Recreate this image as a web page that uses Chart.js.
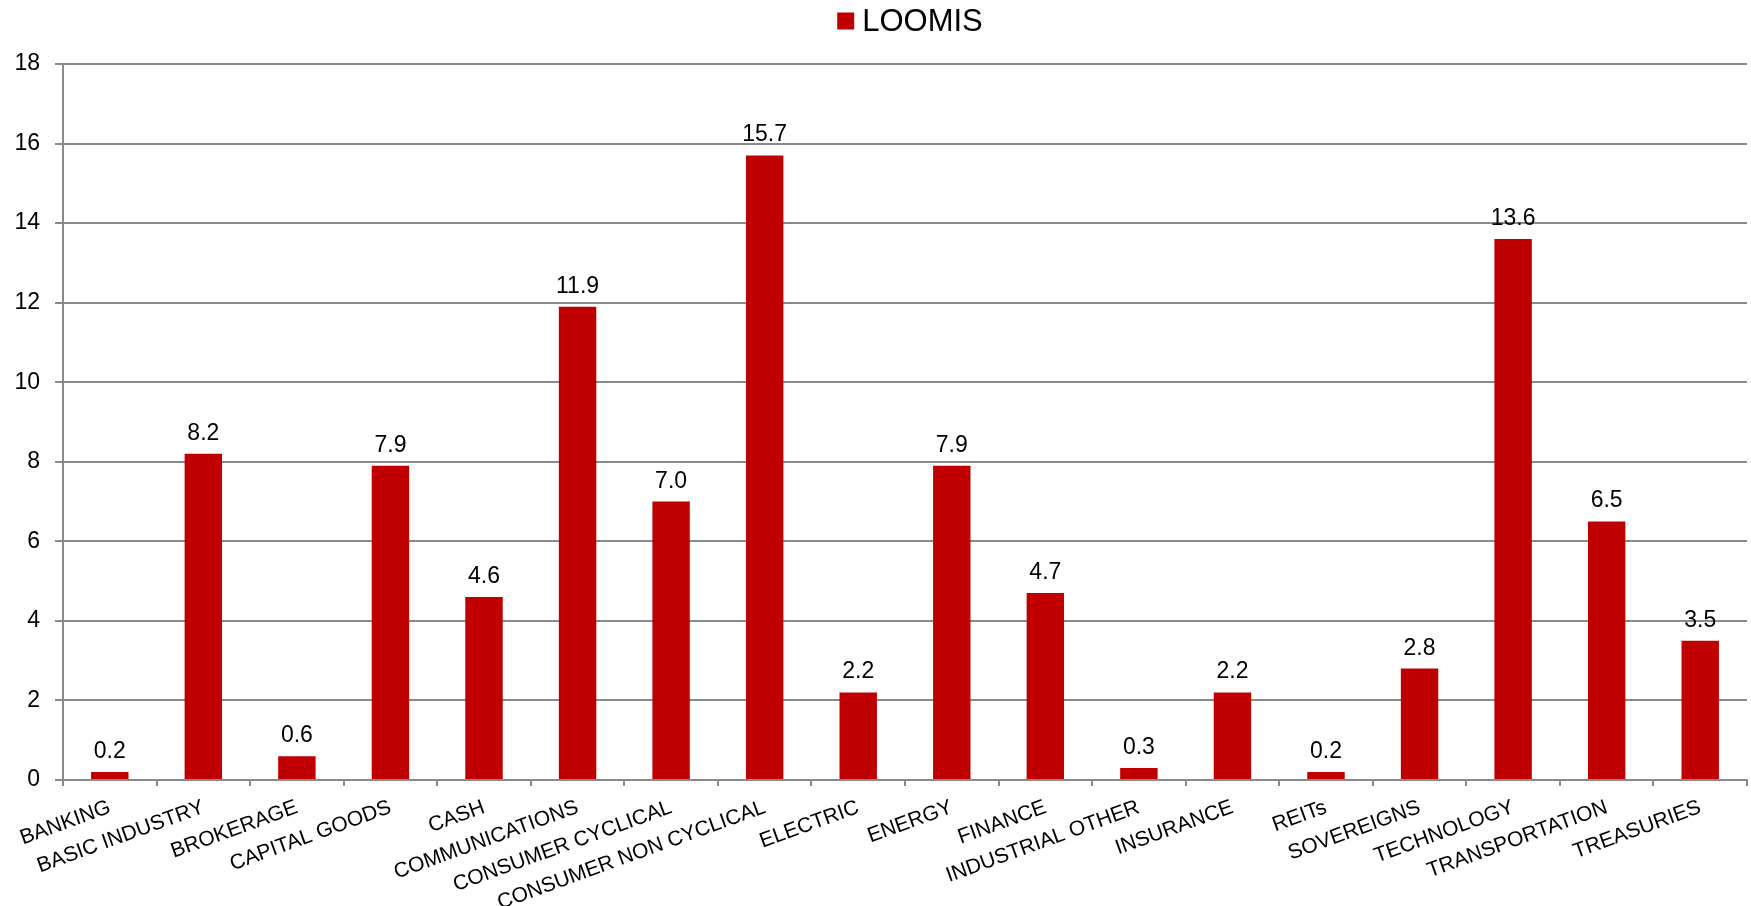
<!DOCTYPE html>
<html>
<head>
<meta charset="utf-8">
<script src="https://cdn.jsdelivr.net/npm/chart.js@4"></script>
<style>
    body { margin: 0; background: #fff; }
    #wrap { width: 1751px; height: 906px; }
</style>
</head>
<body>
<div id="wrap"><canvas id="sector-chart"></canvas></div>
<script>
const sectors = ['BANKING', 'BASIC INDUSTRY', 'BROKERAGE', 'CAPITAL GOODS', 'CASH', 'COMMUNICATIONS',
    'CONSUMER CYCLICAL', 'CONSUMER NON CYCLICAL', 'ELECTRIC', 'ENERGY', 'FINANCE', 'INDUSTRIAL OTHER',
    'INSURANCE', 'REITs', 'SOVEREIGNS', 'TECHNOLOGY', 'TRANSPORTATION', 'TREASURIES'];
const loomis = [0.2, 8.2, 0.6, 7.9, 4.6, 11.9, 7.0, 15.7, 2.2, 7.9, 4.7, 0.3, 2.2, 0.2, 2.8, 13.6, 6.5, 3.5];
const yTicks = [0, 2, 4, 6, 8, 10, 12, 14, 16, 18];

const FONT = "'Liberation Sans', Arial, sans-serif";
const GRID = '#8a8a8a';

// value labels above each bar
const barLabels = {
    id: 'barLabels',
    afterDatasetsDraw(chart) {
        const ctx = chart.ctx;
        const meta = chart.getDatasetMeta(0);
        ctx.save();
        ctx.font = '23px ' + FONT;
        ctx.fillStyle = '#000';
        ctx.textAlign = 'center';
        ctx.textBaseline = 'alphabetic';
        meta.data.forEach((bar, i) => {
            ctx.fillText(loomis[i].toFixed(1), bar.x, bar.y - 14);
        });
        ctx.restore();
    }
};

// simple legend centred over the plot
const topLegend = {
    id: 'topLegend',
    afterDraw(chart) {
        const ctx = chart.ctx;
        const ds = chart.data.datasets[0];
        ctx.save();
        ctx.font = '31px ' + FONT;
        const w = ctx.measureText(ds.label).width;
        const box = 17, gap = 8;
        const total = box + gap + w;
        const x0 = 910 - total / 2;
        const cy = 21;
        ctx.fillStyle = ds.backgroundColor;
        ctx.fillRect(x0, cy - box / 2, box, box);
        ctx.fillStyle = '#000';
        ctx.textBaseline = 'middle';
        ctx.textAlign = 'left';
        ctx.fillText(ds.label, x0 + box + gap, cy + 1);
        ctx.restore();
    }
};

new Chart(
    document.getElementById('sector-chart'),
    {
        type: 'bar',
        data: {
            labels: sectors,
            datasets: [
                {
                    label: 'LOOMIS',
                    data: loomis,
                    backgroundColor: '#C00000',
                    categoryPercentage: 0.8,
                    barPercentage: 0.5
                }
            ]
        },
        options: {
            responsive: true,
            maintainAspectRatio: false,
            animation: false,
            layout: {
                padding: { top: 64, left: 0, right: 4, bottom: 0 }
            },
            plugins: {
                legend: { display: false },
                tooltip: { enabled: false }
            },
            scales: {
                x: {
                    afterFit: s => { s.height = 126; s.paddingLeft = 0; s.paddingRight = 0; },
                    grid: {
                        offset: true,
                        drawOnChartArea: false,
                        color: GRID,
                        lineWidth: 2,
                        tickLength: 6
                    },
                    border: { color: GRID, width: 2 },
                    ticks: {
                        autoSkip: false,
                        minRotation: 20,
                        maxRotation: 20,
                        padding: 9,
                        color: '#000',
                        font: { family: FONT, size: 21 }
                    }
                },
                y: {
                    min: 0,
                    max: 18,
                    afterBuildTicks: axis => { axis.ticks = yTicks.map(v => ({ value: v })); },
                    afterFit: s => { s.width = 63; },
                    grid: {
                        color: GRID,
                        lineWidth: 2,
                        tickLength: 8
                    },
                    border: { color: GRID, width: 2 },
                    ticks: {
                        padding: 15,
                        color: '#000',
                        font: { family: FONT, size: 23 }
                    }
                }
            }
        },
        plugins: [barLabels, topLegend]
    }
);
</script>
</body>
</html>
